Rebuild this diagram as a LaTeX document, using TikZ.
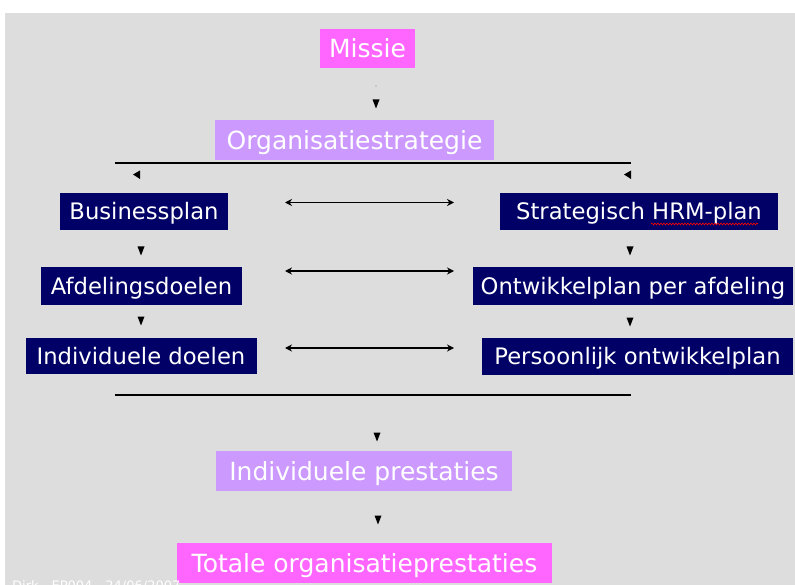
\documentclass[tikz,border=0pt]{standalone}
\usepackage{fontspec}
\setmainfont{DejaVu Sans}
\usetikzlibrary{arrows.meta,decorations.pathmorphing}

\definecolor{slidegrey}{HTML}{DDDDDD}
\definecolor{pinkbox}{HTML}{FF66FF}
\definecolor{lilacbox}{HTML}{CC99FF}
\definecolor{navybox}{HTML}{000066}

\tikzset{
  box/.style={inner sep=0pt, outer sep=0pt, text=white, anchor=center, text depth=0pt},
  pinkstep/.style={box, fill=pinkbox, font=\fontsize{25}{30}\selectfont, text height=18.3pt},
  lilacstep/.style={box, fill=lilacbox, font=\fontsize{25}{30}\selectfont, text height=18.3pt},
  navystep/.style={box, fill=navybox, font=\fontsize{22.7}{27}\selectfont, text height=16.6pt},
  tipfill/.style={fill=black},
  link/.style={line width=1.6pt, {Stealth[length=7pt,width=7pt]}-{Stealth[length=7pt,width=7pt]}},
  bar/.style={line width=2pt},
  squiggle/.style={draw=red, line width=0.6pt, decorate,
    decoration={snake, amplitude=0.9pt, segment length=3pt}},
}

% small downward arrow head centred on a named coordinate
\newcommand\downtip[1]{\fill[tipfill] (#1) ++(-3.5,-4.5) -- ++(7,0) -- ++(-3.5,9) -- cycle;}
% slanted arrow head under the top bar
\newcommand\slanttip[1]{\fill[tipfill] (#1) ++(-4,0) -- ++(7,-4) -- ++(0,8.5) -- cycle;}

\begin{document}
\begin{tikzpicture}[x=1pt,y=-1pt]
  \useasboundingbox (0,0) rectangle (795,585);
  \fill[white] (0,0) rectangle (795,585);
  \fill[slidegrey] (5,13) rectangle (795,585);

  \begin{scope}
    \clip (5,13) rectangle (795,585);

    % central column
    \node[pinkstep, minimum width=95pt, minimum height=39pt] (missie) at (367.5,48.5) {Missie};
    \node[lilacstep, minimum width=279pt, minimum height=40pt] (strategie) at (354.5,140) {Organisatiestrategie};

    % left column
    \node[navystep, minimum width=168pt, minimum height=37pt] (business) at (144,211.5) {Businessplan};
    \node[navystep, minimum width=201pt, minimum height=38pt] (afdeling) at (141.5,286) {Afdelingsdoelen};
    \node[navystep, minimum width=231pt, minimum height=36pt] (inddoel) at (141,356) {Individuele doelen};

    % right column
    \node[navystep, minimum width=278pt, minimum height=37pt] (hrm) at (639,211.5) {Strategisch HRM-plan};
    \node[navystep, minimum width=320pt, minimum height=38pt] (ontwikkel) at (633,286) {Ontwikkelplan per afdeling};
    \node[navystep, minimum width=311pt, minimum height=37pt] (persoonlijk) at (637.5,356.5) {Persoonlijk ontwikkelplan};

    % results
    \node[lilacstep, minimum width=296pt, minimum height=40pt] (prestaties) at (364,471) {Individuele prestaties};
    \node[pinkstep, minimum width=375pt, minimum height=40pt] (totaal) at (364.5,563) {Totale organisatieprestaties};

    % spell-check mark under HRM-plan
    \draw[squiggle] (651,224) -- (758,224);

    % bars
    \coordinate (barTopL) at (115,163);
    \coordinate (barTopR) at (631,163);
    \coordinate (barBotL) at (115,394.5);
    \coordinate (barBotR) at (631,394.5);
    \draw[bar] (barTopL) -- (barTopR);
    \draw[bar] (barBotL) -- (barBotR);

    % two-way links between the columns
    \coordinate (l1) at (285,202.5); \coordinate (r1) at (454,202.5);
    \coordinate (l2) at (285,271); \coordinate (r2) at (454,271);
    \coordinate (l3) at (285,348); \coordinate (r3) at (454,348);
    \draw[link] (l1) -- (r1);
    \draw[link] (l2) -- (r2);
    \draw[link] (l3) -- (r3);

    % arrow heads
    \fill[gray] (376,86) circle (0.7);
    \coordinate (t0) at (376,104);
    \coordinate (tl1) at (141,251); \coordinate (tl2) at (141,321);
    \coordinate (tr1) at (630,251); \coordinate (tr2) at (630,322);
    \coordinate (tb1) at (377,437); \coordinate (tb2) at (378,520);
    \downtip{t0}
    \downtip{tl1} \downtip{tl2}
    \downtip{tr1} \downtip{tr2}
    \downtip{tb1} \downtip{tb2}
    \coordinate (sl) at (137,174.5); \coordinate (sr) at (628,174.5);
    \slanttip{sl} \slanttip{sr}

    % footer
    \node[anchor=north west, inner sep=0pt, text=white, font=\fontsize{13}{15}\selectfont] (footer) at (12,580.5) {Dirk - EP004 - 24/06/2007};
  \end{scope}
\end{tikzpicture}
\end{document}
